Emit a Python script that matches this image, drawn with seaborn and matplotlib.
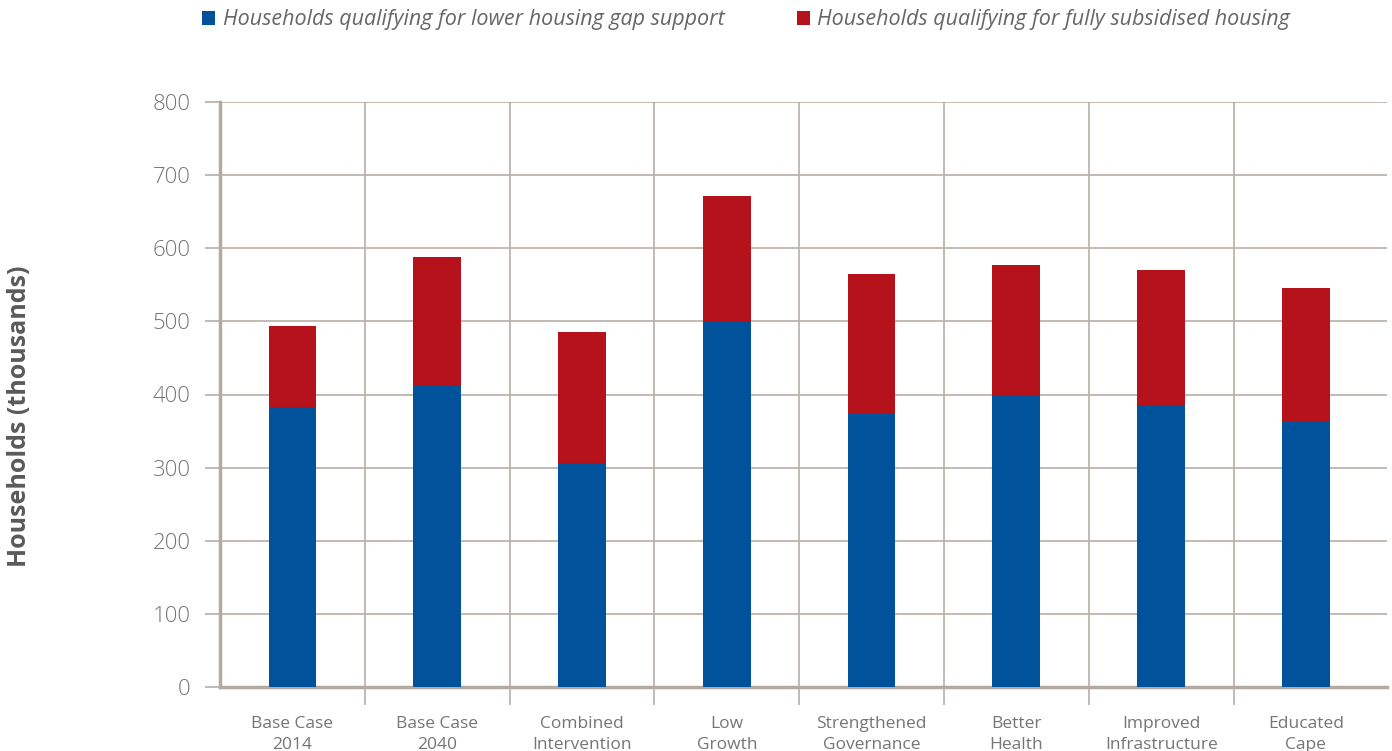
import matplotlib
matplotlib.use("Agg")
import matplotlib.pyplot as plt
import seaborn as sns
import pandas as pd
import numpy as np
from matplotlib.patches import Patch

categories = ["Base Case\n2014", "Base Case\n2040", "Combined\nIntervention", "Low\nGrowth",
              "Strengthened\nGovernance", "Better\nHealth", "Improved\nInfrastructure", "Educated\nCape"]
lower_gap = [383, 413, 306, 500, 375, 399, 386, 364]
fully_subsidised = [111, 175, 180, 172, 190, 178, 184, 182]
series_names = ["Households qualifying for lower housing gap support",
                "Households qualifying for fully subsidised housing"]
y_ticks = [0, 100, 200, 300, 400, 500, 600, 700, 800]

BLUE = "#00529B"
RED = "#B5121B"
GRID = "#B8AFA8"
TXT = "#757575"

sns.set_theme(style="white")
plt.rcParams['font.family'] = ['Open Sans', 'DejaVu Sans']

df = pd.DataFrame({"cat": categories, "low": lower_gap, "full": fully_subsidised})
df["total"] = df["low"] + df["full"]

fig = plt.figure(figsize=(13.92, 7.51), dpi=100)
ax = fig.add_axes([220/1392, 1-687/751, (1387-220)/1392, (687-102)/751])

sns.barplot(data=df, x="cat", y="total", color=RED, width=0.33, ax=ax, saturation=1,
            linewidth=0, zorder=3)
sns.barplot(data=df, x="cat", y="low", color=BLUE, width=0.33, ax=ax, saturation=1,
            linewidth=0, zorder=3)

ax.set_xlim(-0.5, len(categories) - 0.44)
ax.set_ylim(0, 800)
ax.set_yticks(y_ticks)
ax.set_yticklabels([str(v) for v in y_ticks], fontsize=16, color=TXT, fontweight="light")
ax.yaxis.grid(True, color=GRID, linewidth=1.2, zorder=0)
ax.tick_params(axis="y", length=11, width=1.2, color=GRID, pad=10, direction="out", left=True)

ax.set_xticks(range(len(categories)))
ax.set_xticklabels(categories, fontsize=12.5, color=TXT, linespacing=1.4)
ax.set_xticks(np.arange(0.5, len(categories) - 1, 1.0), minor=True)
ax.tick_params(axis="x", which="major", length=0, pad=21)
ax.tick_params(axis="x", which="minor", length=13, width=1.2, color=GRID, direction="out", bottom=True)
ax.xaxis.grid(True, which="minor", color=GRID, linewidth=1.2, zorder=0)
ax.xaxis.grid(False, which="major")
ax.set_axisbelow(True)

for s in ["top", "right"]:
    ax.spines[s].set_visible(False)
for s in ["left", "bottom"]:
    ax.spines[s].set_color("#B3A9A0")
    ax.spines[s].set_linewidth(2.5)

ax.set_xlabel("")
ax.set_ylabel("")
fig.text(20/1392, 1-416/751, "Households (thousands)", rotation=90, ha="center", va="center",
         fontsize=18, fontweight="bold", color="#5A5A5A")

handles = [Patch(facecolor=BLUE, edgecolor="none"), Patch(facecolor=RED, edgecolor="none")]
fig.legend(handles, series_names, loc="center left", bbox_to_anchor=(183/1392, 1-20/751),
           ncol=2, frameon=False, prop={"size": 15.5, "style": "italic"},
           handlelength=0.6, handleheight=0.6, handletextpad=0.35, columnspacing=3.35,
           labelcolor="#666666")

fig.savefig("out.png", dpi=100)
